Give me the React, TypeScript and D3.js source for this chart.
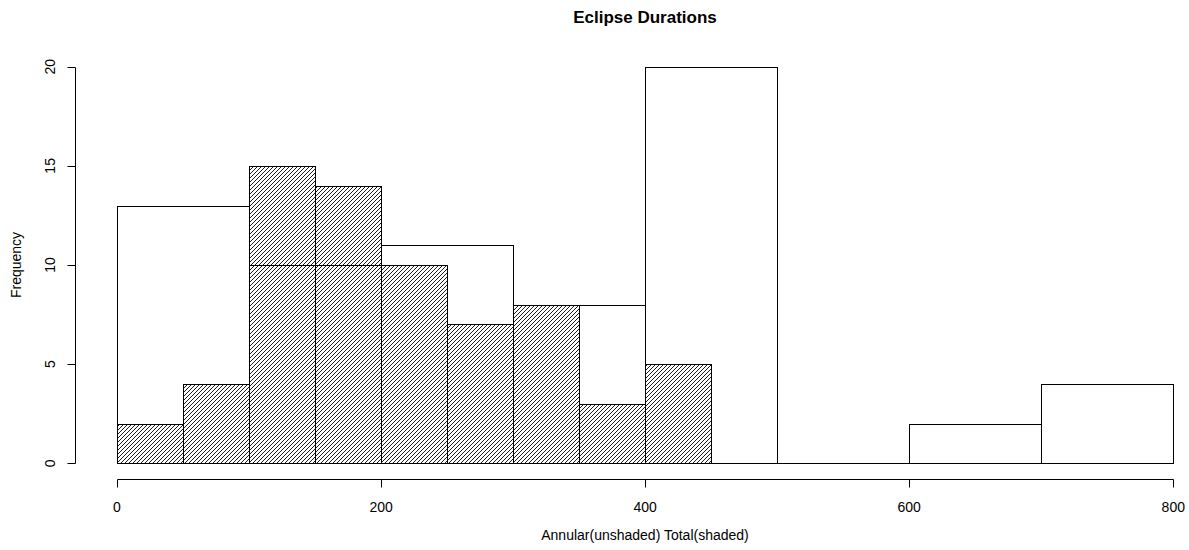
import React from 'react';
import * as d3 from 'd3';

// histogram bins
const annularBreaks = [0, 100, 200, 300, 400, 500, 600, 700, 800];
const annularCounts = [13, 10, 11, 8, 20, 0, 2, 4];
const totalBreaks = [0, 50, 100, 150, 200, 250, 300, 350, 400, 450];
const totalCounts = [2, 4, 15, 14, 10, 7, 8, 3, 5];
const xTicks = [0, 200, 400, 600, 800];
const yTicks = [0, 5, 10, 15, 20];

const W = 1189;
const H = 550;
const FONT = 'Liberation Sans, Arial, Helvetica, sans-serif';

export default function App() {
  const x = d3.scaleLinear().domain([0, 800]).range([117, 1173.3]);
  const y = d3.scaleLinear().domain([0, 20]).range([463.3, 66.7]);
  const axisY = 479.3;
  const axisX = 75;

  const annular = annularCounts.map((c, i) => ({ x0: annularBreaks[i], x1: annularBreaks[i + 1], c }));
  const total = totalCounts.map((c, i) => ({ x0: totalBreaks[i], x1: totalBreaks[i + 1], c }));

  const px = (v: number) => Math.round(v) + 0.5;

  // a zero count still draws its outline, which is just the base line
  const bar = (d: { x0: number; x1: number; c: number }, key: string, fill: string) =>
    d.c === 0 ? (
      <line key={key} x1={px(x(d.x0))} x2={px(x(d.x1))} y1={px(y(0))} y2={px(y(0))}
        stroke="#000" strokeWidth={1} />
    ) : (
      <rect key={key}
        x={px(x(d.x0))} y={px(y(d.c))}
        width={Math.round(x(d.x1)) - Math.round(x(d.x0))}
        height={Math.round(y(0)) - Math.round(y(d.c))}
        fill={fill} stroke="#000" strokeWidth={1} />
    );

  return (
    <svg width={W} height={H} style={{ position: 'absolute', left: 0, top: 0, background: '#fff' }}
      fontFamily={FONT}>
      <defs>
        <pattern id="hatch" patternUnits="userSpaceOnUse" width={4} height={4}>
          <path d="M-1,1 L1,-1 M0,4 L4,0 M3,5 L5,3" stroke="#000" strokeWidth={0.9} />
        </pattern>
      </defs>

      <text x={645} y={23} textAnchor="middle" fontSize={17} fontWeight="bold">Eclipse Durations</text>

      {/* annular: unshaded */}
      <g>{annular.map((d, i) => bar(d, 'a' + i, 'none'))}</g>

      {/* total: shaded */}
      <g>{total.map((d, i) => bar(d, 't' + i, 'url(#hatch)'))}</g>

      {/* x axis */}
      <g stroke="#000" strokeWidth={1}>
        <line x1={px(x(0))} x2={px(x(800))} y1={px(axisY)} y2={px(axisY)} />
        {xTicks.map(t => (
          <line key={'xt' + t} x1={px(x(t))} x2={px(x(t))} y1={px(axisY)} y2={px(axisY) + 8} />
        ))}
      </g>
      {xTicks.map(t => (
        <text key={'xl' + t} x={x(t)} y={511.5} textAnchor="middle" fontSize={14}>{t}</text>
      ))}

      {/* y axis */}
      <g stroke="#000" strokeWidth={1}>
        <line x1={px(axisX)} x2={px(axisX)} y1={px(y(0))} y2={px(y(20))} />
        {yTicks.map(t => (
          <line key={'yt' + t} x1={px(axisX) - 8} x2={px(axisX)} y1={px(y(t))} y2={px(y(t))} />
        ))}
      </g>
      {yTicks.map(t => (
        <text key={'yl' + t} transform={`translate(55,${y(t)}) rotate(-90)`} textAnchor="middle" fontSize={14}>{t}</text>
      ))}

      <text x={645} y={540} textAnchor="middle" fontSize={14}>Annular(unshaded) Total(shaded)</text>
      <text transform={`translate(21,${(y(0) + y(20)) / 2}) rotate(-90)`} textAnchor="middle" fontSize={14}>Frequency</text>
    </svg>
  );
}
